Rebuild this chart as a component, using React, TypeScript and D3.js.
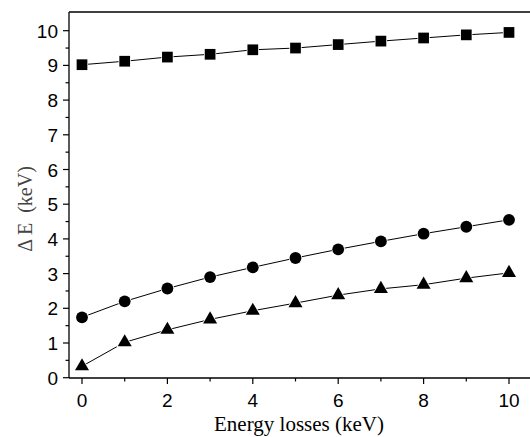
import { useEffect, useRef } from 'react';
import * as d3 from 'd3';

const lossesKeV = [0, 1, 2, 3, 4, 5, 6, 7, 8, 9, 10];
const squareSeries = [9.02, 9.12, 9.24, 9.32, 9.45, 9.5, 9.6, 9.7, 9.79, 9.88, 9.95];
const circleSeries = [1.74, 2.2, 2.57, 2.9, 3.18, 3.45, 3.7, 3.93, 4.15, 4.35, 4.55];
const triangleSeries = [0.33, 1.02, 1.38, 1.68, 1.93, 2.15, 2.38, 2.56, 2.68, 2.87, 3.02];
const xMajorTicks = [0, 2, 4, 6, 8, 10];
const xMinorTicks = [1, 3, 5, 7, 9];
const yMajorTicks = [0, 1, 2, 3, 4, 5, 6, 7, 8, 9, 10];
const yMinorTicks = [0.5, 1.5, 2.5, 3.5, 4.5, 5.5, 6.5, 7.5, 8.5, 9.5];

const App = () => {
  const svgRef = useRef<SVGSVGElement>(null);

  useEffect(() => {
    const W = 530;
    const H = 437;
    const svg = d3.select(svgRef.current);
    svg.selectAll('*').remove();
    svg.attr('width', W).attr('height', H);

    const left = 69;
    const top = 12;
    const bottom = 378;

    // scales
    const x = d3.scaleLinear().domain([0, 10]).range([82, 509]);
    const y = d3.scaleLinear().domain([0, 10]).range([377.7, 30.7]);

    svg.append('rect').attr('width', W).attr('height', H).attr('fill', '#fff');

    // frame: top and bottom lines run to the right edge, left axis
    const frame = svg.append('g').attr('stroke', '#000').attr('stroke-width', 1.3);
    frame.append('line').attr('x1', left).attr('x2', W).attr('y1', top).attr('y2', top);
    frame.append('line').attr('x1', left).attr('x2', W).attr('y1', bottom).attr('y2', bottom);
    frame.append('line').attr('x1', left).attr('x2', left).attr('y1', top).attr('y2', bottom);

    // ticks (outward)
    const ticks = svg.append('g').attr('stroke', '#000').attr('stroke-width', 1.2);
    xMajorTicks.forEach(t => {
      ticks.append('line').attr('x1', x(t)).attr('x2', x(t)).attr('y1', bottom).attr('y2', bottom + 6);
    });
    xMinorTicks.forEach(t => {
      ticks.append('line').attr('x1', x(t)).attr('x2', x(t)).attr('y1', bottom).attr('y2', bottom + 3.5);
    });
    yMajorTicks.forEach(t => {
      ticks.append('line').attr('x1', left - 6).attr('x2', left).attr('y1', y(t)).attr('y2', y(t));
    });
    yMinorTicks.forEach(t => {
      ticks.append('line').attr('x1', left - 3.5).attr('x2', left).attr('y1', y(t)).attr('y2', y(t));
    });

    const tickFont = '"Liberation Sans", Arial, sans-serif';
    svg
      .append('g')
      .selectAll('text')
      .data(xMajorTicks)
      .enter()
      .append('text')
      .attr('x', d => x(d))
      .attr('y', 407)
      .attr('text-anchor', 'middle')
      .style('font-family', tickFont)
      .style('font-size', '19px')
      .text(d => d);

    svg
      .append('g')
      .selectAll('text')
      .data(yMajorTicks)
      .enter()
      .append('text')
      .attr('x', 58)
      .attr('y', d => y(d) + 7)
      .attr('text-anchor', 'end')
      .style('font-family', tickFont)
      .style('font-size', '19px')
      .text(d => d);

    // axis titles
    const titleFont = '"Liberation Serif", "Times New Roman", serif';
    svg
      .append('text')
      .attr('x', 299)
      .attr('y', 431)
      .attr('text-anchor', 'middle')
      .style('font-family', titleFont)
      .style('font-size', '21px')
      .text('Energy losses (keV)');

    svg
      .append('text')
      .attr('transform', 'translate(32,209) rotate(-90)')
      .attr('text-anchor', 'middle')
      .attr('fill', '#444')
      .style('font-family', titleFont)
      .style('font-size', '20px')
      .style('white-space', 'pre')
      .text('Δ E  (keV)');

    // lines + markers
    const series = [
      { values: squareSeries, shape: d3.symbolSquare, size: 115 },
      { values: circleSeries, shape: d3.symbolCircle, size: 110 },
      { values: triangleSeries, shape: d3.symbolTriangle, size: 85 },
    ];

    const line = d3
      .line<number>()
      .x((_, i) => x(lossesKeV[i]))
      .y(d => y(d));

    series.forEach(s => {
      svg
        .append('path')
        .datum(s.values)
        .attr('d', line)
        .attr('fill', 'none')
        .attr('stroke', '#000')
        .attr('stroke-width', 1);

      const sym = d3.symbol().type(s.shape).size(s.size);
      svg
        .append('g')
        .selectAll('path')
        .data(s.values)
        .enter()
        .append('path')
        .attr('transform', (d, i) => `translate(${x(lossesKeV[i])},${y(d)})`)
        .attr('d', sym)
        .attr('fill', '#000')
        .attr('stroke', '#fff')
        .attr('stroke-width', 1.5)
        .attr('paint-order', 'stroke');
    });
  }, []);

  return <svg ref={svgRef} style={{ position: 'absolute', left: 0, top: 0, display: 'block' }}></svg>;
};

export default App;
